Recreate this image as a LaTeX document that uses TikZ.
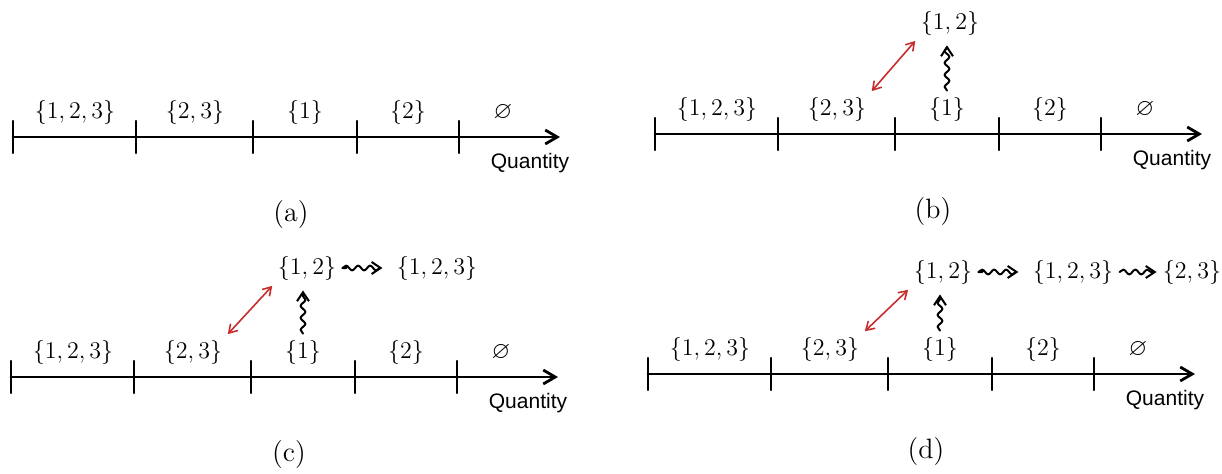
\documentclass[tikz,border=0pt]{standalone}
\usepackage{amssymb}
\usepackage{fontspec}
\usetikzlibrary{arrows.meta}
\usetikzlibrary{decorations.pathmorphing}
\newfontfamily\quantfont{Liberation Sans}
\definecolor{arrowred}{RGB}{200,45,45}

\tikzset{
  axisline/.style={line width=1.4pt,-{Straight Barb[length=6pt,width=7pt]}},
  tickline/.style={line width=1.2pt},
  setlabel/.style={font=\fontsize{12}{14}\selectfont,inner sep=2pt},
  wavearrow/.style={line width=1pt,decorate,
    decoration={snake,amplitude=1.2pt,segment length=6pt,pre length=1pt,post length=3.5pt},
    -{Straight Barb[length=4.5pt,width=6pt]}},
  linkarrow/.style={arrowred,line width=0.8pt,
    {Straight Barb[length=4pt,width=5pt]}-{Straight Barb[length=4pt,width=5pt]}}
}

% one axis with its five sets, in panel coordinates
\newcommand{\quantityaxis}[2]{%
  \coordinate (#1-start) at (13,137);
  \coordinate (#1-end) at (560,137);
  \draw[axisline] (#1-start) -- (#1-end);
  \foreach \x in {13,136,253,357,459}
    \draw[tickline] (\x,121) -- (\x,153);
  \node[setlabel] (#1-s123) at (75,112) {$\{1,2,3\}$};
  \node[setlabel] (#1-s23) at (195,112) {$\{2,3\}$};
  \node[setlabel] (#1-s1) at (305,112) {$\{1\}$};
  \node[setlabel] (#1-s2) at (408,112) {$\{2\}$};
  \node[setlabel] (#1-empty) at (503,112) {$\varnothing$};
  \node[font=\quantfont\fontsize{10.5}{12}\selectfont] (#1-qty) at (530,163) {Quantity};
  \node[font=\fontsize{14}{16}\selectfont] (#1-cap) at (291,215) {(#2)};
}

\begin{document}
\begin{tikzpicture}[line cap=round,line join=round,x=0.5pt,y=-0.5pt]
\useasboundingbox (0,0) rectangle (1222,473);

% (a)
\begin{scope}
\quantityaxis{a}{a}
\end{scope}

% (b)
\begin{scope}[shift={(642,-3)}]
\quantityaxis{b}{b}
\node[setlabel] (b-s12) at (308,26) {$\{1,2\}$};
\draw[wavearrow,shorten <=1pt,shorten >=3pt] (b-s1.north) -- (b-s1.north |- b-s12.south);
\draw[linkarrow,shorten <=1pt,shorten >=1pt] (b-s23.north east) -- (b-s12.south west);
\end{scope}

% (c)
\begin{scope}[shift={(-2,240)}]
\quantityaxis{c}{c}
\node[setlabel] (c-s12) at (309,28) {$\{1,2\}$};
\node[setlabel] (c-t123) at (439,28) {$\{1,2,3\}$};
\draw[wavearrow,shorten <=1pt,shorten >=3pt] (c-s1.north) -- (c-s1.north |- c-s12.south);
\draw[linkarrow,shorten <=1pt,shorten >=1pt] (c-s23.north east) -- (c-s12.south west);
\draw[wavearrow,shorten <=3pt,shorten >=5pt] (c-s12.east) -- (c-t123.west);
\end{scope}

% (d)
\begin{scope}[shift={(635,237)}]
\quantityaxis{d}{d}
\node[setlabel] (d-s12) at (308,35) {$\{1,2\}$};
\node[setlabel] (d-t123) at (438,35) {$\{1,2,3\}$};
\node[setlabel] (d-t23) at (557,35) {$\{2,3\}$};
\draw[wavearrow,shorten <=1pt,shorten >=3pt] (d-s1.north) -- (d-s1.north |- d-s12.south);
\draw[linkarrow,shorten <=1pt,shorten >=1pt] (d-s23.north east) -- (d-s12.south west);
\draw[wavearrow,shorten <=3pt,shorten >=5pt] (d-s12.east) -- (d-t123.west);
\draw[wavearrow,shorten <=1pt,shorten >=1pt] (d-t123.east) -- (d-t23.west);
\end{scope}
\end{tikzpicture}
\end{document}
